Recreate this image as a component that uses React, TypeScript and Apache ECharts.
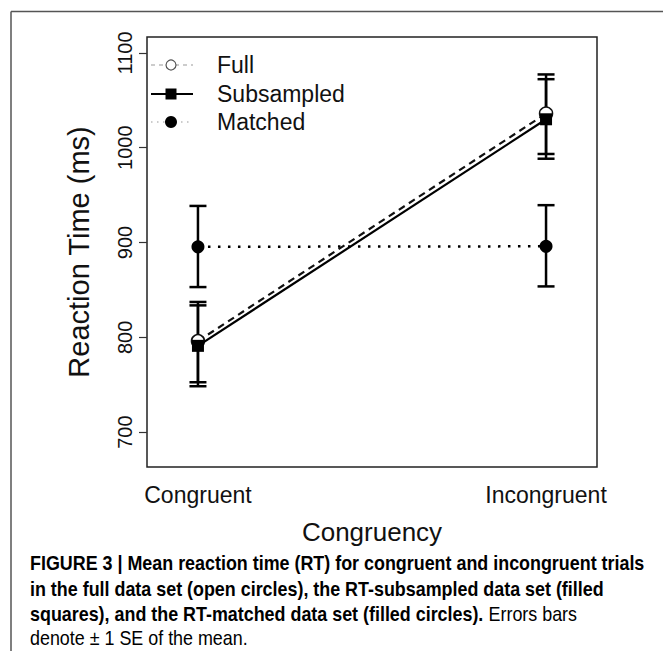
import React, { useEffect, useRef } from "react";
import * as echarts from "echarts";

const categories = ["Congruent", "Incongruent"];
const xPositions = [1, 2];
const yTicks = [700, 800, 900, 1000, 1100];

const fullMeans = [796, 1036];
const fullLow = [752.6, 993.4];
const fullHigh = [837.3, 1077.3];

const subMeans = [791, 1030];
const subLow = [748.4, 988.4];
const subHigh = [833.7, 1072.3];

const matchedMeans = [895.5, 896];
const matchedLow = [853, 853.7];
const matchedHigh = [938.6, 939.4];

const legendNames = ["Full", "Subsampled", "Matched"];

const captionBold1 = "FIGURE 3 | Mean reaction time (RT) for congruent and incongruent trials";
const captionBold2 = "in the full data set (open circles), the RT-subsampled data set (filled";
const captionBold3 = "squares), and the RT-matched data set (filled circles).";
const captionReg3 = " Errors bars";
const captionReg4 = "denote \u00b1 1 SE of the mean.";

const FONT = "'Liberation Sans', Arial, Helvetica, sans-serif";
const CAP_FONT = "'Liberation Sans', Arial, Helvetica, sans-serif";

function errSeries(low: number[], high: number[]) {
  return {
    type: "custom",
    z: 1,
    silent: true,
    data: xPositions.map((x, i) => [x, low[i], high[i]]),
    encode: { x: 0, y: [1, 2] },
    renderItem: (_p: any, api: any) => {
      const x = api.value(0);
      const pLo = api.coord([x, api.value(1)]);
      const pHi = api.coord([x, api.value(2)]);
      const hw = 8.5;
      const st = { stroke: "#000", lineWidth: 2.5 };
      return {
        type: "group",
        children: [
          { type: "line", shape: { x1: pLo[0], y1: pLo[1], x2: pHi[0], y2: pHi[1] }, style: st },
          { type: "line", shape: { x1: pLo[0] - hw, y1: pLo[1], x2: pLo[0] + hw, y2: pLo[1] }, style: st },
          { type: "line", shape: { x1: pHi[0] - hw, y1: pHi[1], x2: pHi[0] + hw, y2: pHi[1] }, style: st },
        ],
      };
    },
  };
}

export default function App() {
  const ref = useRef<HTMLDivElement>(null);
  useEffect(() => {
    document.body.style.margin = "0";
    const chart = echarts.init(ref.current!, null, { renderer: "svg" });
    const lx1 = 151, lx2 = 193, lxm = 171, ltx = 217;
    const ly = [65, 94, 122];
    const capScale = 0.895;
    const capBold = { fontFamily: CAP_FONT, fontWeight: "bold", fontSize: 20, color: "#231f20" };
    const capReg = { fontFamily: CAP_FONT, fontWeight: "normal", fontSize: 20, color: "#444" };
    chart.setOption({
      animation: false,
      backgroundColor: "#fff",
      grid: {
        left: 147,
        top: 37,
        right: 66,
        bottom: 184,
        show: true,
        borderColor: "#222",
        borderWidth: 1.5,
        containLabel: false,
      },
      xAxis: {
        type: "value",
        min: 0.8536,
        max: 2.1464,
        name: "Congruency",
        nameLocation: "middle",
        nameGap: 52,
        nameTextStyle: { fontFamily: FONT, fontSize: 26, color: "#111" },
        axisLine: { show: false },
        axisTick: { show: false },
        splitLine: { show: false },
        axisLabel: {
          customValues: xPositions,
          formatter: (v: number) => categories[Math.round(v) - 1] ?? "",
          fontFamily: FONT,
          fontSize: 23,
          color: "#111",
          margin: 16,
        },
      },
      yAxis: {
        type: "value",
        min: 663.2,
        max: 1116.8,
        name: "Reaction Time (ms)",
        nameLocation: "middle",
        nameRotate: 90,
        nameGap: 54,
        nameTextStyle: { fontFamily: FONT, fontSize: 29, color: "#111" },
        axisLine: { show: false },
        splitLine: { show: false },
        axisTick: {
          show: true,
          customValues: yTicks,
          length: 8,
          lineStyle: { color: "#333", width: 1.2 },
        },
        axisLabel: {
          customValues: yTicks,
          formatter: (v: number) => String(v),
          rotate: 90,
          fontFamily: FONT,
          fontSize: 20,
          color: "#111",
          margin: 12,
        },
      },
      series: [
        errSeries(fullLow, fullHigh),
        errSeries(subLow, subHigh),
        errSeries(matchedLow, matchedHigh),
        {
          type: "line",
          name: legendNames[0],
          z: 2,
          data: xPositions.map((x, i) => [x, fullMeans[i]]),
          symbol: "circle",
          symbolSize: 13,
          showSymbol: true,
          itemStyle: { color: "#fff", borderColor: "#111", borderWidth: 1.5 },
          lineStyle: { color: "#111", width: 2.2, type: [7, 5] },
        },
        {
          type: "line",
          name: legendNames[1],
          z: 3,
          data: xPositions.map((x, i) => [x, subMeans[i]]),
          symbol: "rect",
          symbolSize: 12,
          itemStyle: { color: "#000" },
          lineStyle: { color: "#000", width: 2.2 },
        },
        {
          type: "line",
          name: legendNames[2],
          z: 3,
          data: xPositions.map((x, i) => [x, matchedMeans[i]]),
          symbol: "circle",
          symbolSize: 13,
          itemStyle: { color: "#000" },
          lineStyle: { color: "#000", width: 2.5, type: [2.5, 7.5] },
        },
      ],
      graphic: [
        { type: "line", shape: { x1: 11, y1: 11.5, x2: 663, y2: 11.5 }, style: { stroke: "#555", lineWidth: 1.5 } },
        { type: "line", shape: { x1: 11, y1: 11.5, x2: 11, y2: 651 }, style: { stroke: "#555", lineWidth: 1.5 } },
        // legend: Full
        { type: "line", shape: { x1: lx1, y1: ly[0], x2: lx2, y2: ly[0] }, style: { stroke: "#999", lineWidth: 1, lineDash: [4, 4] } },
        { type: "circle", shape: { cx: lxm, cy: ly[0], r: 5 }, style: { fill: "#fff", stroke: "#555", lineWidth: 1.2 } },
        { type: "text", x: ltx, y: ly[0], style: { text: legendNames[0], fontFamily: FONT, fontSize: 23, fill: "#111", verticalAlign: "middle" } },
        // legend: Subsampled
        { type: "line", shape: { x1: lx1, y1: ly[1], x2: lx2, y2: ly[1] }, style: { stroke: "#000", lineWidth: 2 } },
        { type: "rect", shape: { x: lxm - 5.5, y: ly[1] - 5.5, width: 11, height: 11 }, style: { fill: "#000" } },
        { type: "text", x: ltx, y: ly[1], style: { text: legendNames[1], fontFamily: FONT, fontSize: 23, fill: "#111", verticalAlign: "middle" } },
        // legend: Matched
        { type: "line", shape: { x1: lx1, y1: ly[2], x2: lx2, y2: ly[2] }, style: { stroke: "#999", lineWidth: 1.2, lineDash: [1.5, 4.5] } },
        { type: "circle", shape: { cx: lxm, cy: ly[2], r: 6 }, style: { fill: "#000" } },
        { type: "text", x: ltx, y: ly[2], style: { text: legendNames[2], fontFamily: FONT, fontSize: 23, fill: "#111", verticalAlign: "middle" } },
        // caption
        {
          type: "text", x: 30, y: 563, scaleX: capScale,
          style: { text: "{b|" + captionBold1 + "}", verticalAlign: "middle", rich: { b: capBold } },
        },
        {
          type: "text", x: 30, y: 589, scaleX: capScale,
          style: { text: "{b|" + captionBold2 + "}", verticalAlign: "middle", rich: { b: capBold } },
        },
        {
          type: "text", x: 30, y: 614, scaleX: capScale,
          style: { text: "{b|" + captionBold3 + "}{r|" + captionReg3 + "}", verticalAlign: "middle", rich: { b: capBold, r: capReg } },
        },
        {
          type: "text", x: 30, y: 638, scaleX: capScale,
          style: { text: "{r|" + captionReg4 + "}", verticalAlign: "middle", rich: { r: capReg } },
        },
      ],
    });
    return () => chart.dispose();
  }, []);
  return <div ref={ref} style={{ width: 663, height: 651 }} />;
}
